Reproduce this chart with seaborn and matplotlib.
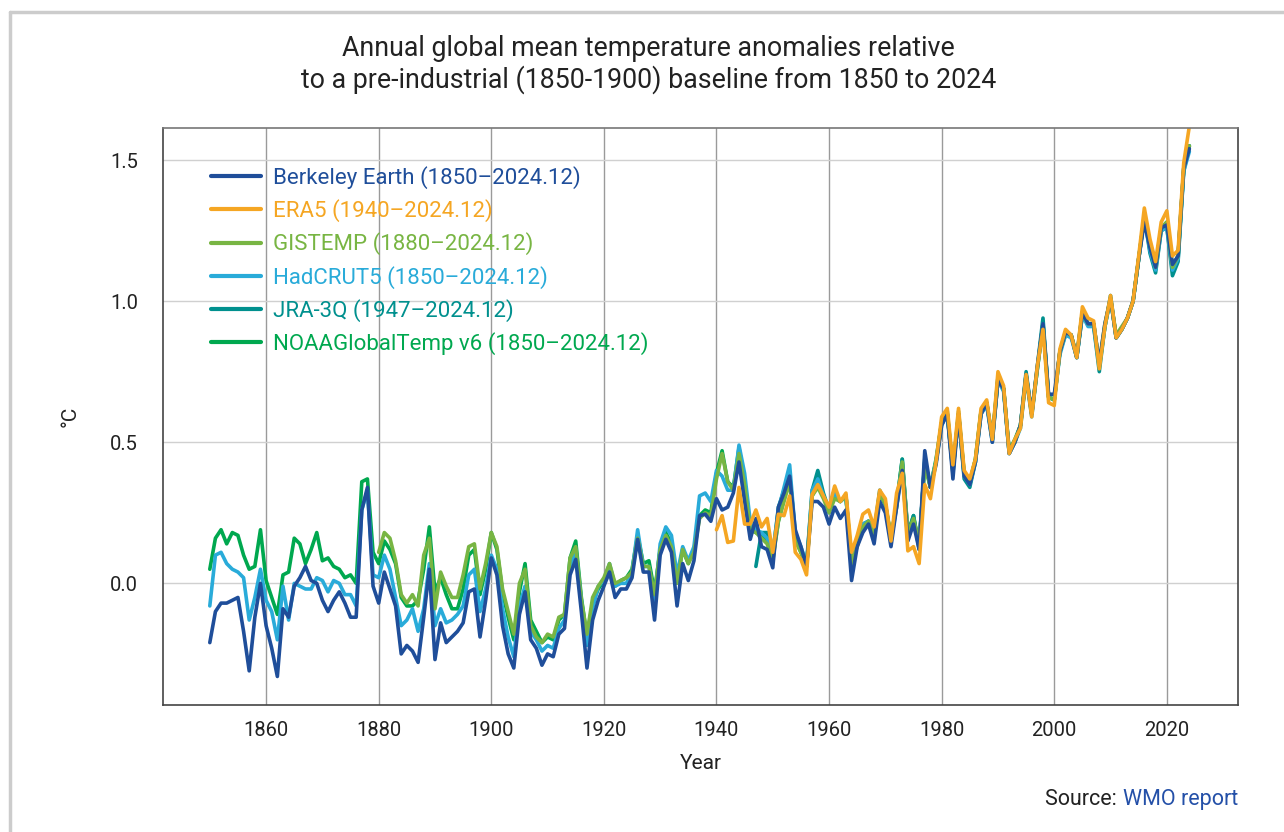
import numpy as np
import pandas as pd
import matplotlib
matplotlib.use('Agg')
import matplotlib.pyplot as plt
import seaborn as sns
from matplotlib.lines import Line2D

# ── Data: annual anomalies (°C) vs 1850-1900 ──────────────────────────
berkeley_start = 1850
berkeley = [
    -0.21, -0.10, -0.07, -0.07, -0.06, -0.05, -0.17, -0.31, -0.12, 0.00,
    -0.15, -0.23, -0.33, -0.09, -0.12, -0.01, 0.02, 0.06, 0.01, 0.00,
    -0.06, -0.10, -0.06, -0.03, -0.07, -0.12, -0.12, 0.26, 0.34, -0.01,
    -0.07, 0.04, -0.02, -0.08, -0.25, -0.22, -0.24, -0.28, -0.12, 0.05,
    -0.27, -0.14, -0.21, -0.19, -0.17, -0.14, -0.03, -0.02, -0.19, -0.06,
    0.09, 0.03, -0.15, -0.25, -0.30, -0.11, -0.03, -0.20, -0.23, -0.29,
    -0.25, -0.26, -0.18, -0.16, 0.03, 0.085, -0.10, -0.30, -0.13, -0.06,
    -0.01, 0.04, -0.05, -0.02, -0.02, 0.02, 0.156, 0.04, 0.04, -0.13,
    0.10, 0.156, 0.11, -0.08, 0.07, 0.01, 0.08, 0.24, 0.245, 0.22,
    0.30, 0.26, 0.27, 0.32, 0.43, 0.29, 0.156, 0.23, 0.13, 0.12,
    0.055, 0.27, 0.32, 0.38, 0.19, 0.13, 0.06, 0.29, 0.29, 0.27,
    0.21, 0.27, 0.23, 0.26, 0.01, 0.13, 0.18, 0.21, 0.14, 0.29,
    0.25, 0.13, 0.27, 0.40, 0.15, 0.21, 0.12, 0.47, 0.34, 0.42,
    0.56, 0.60, 0.37, 0.60, 0.38, 0.35, 0.43, 0.60, 0.64, 0.50,
    0.72, 0.69, 0.46, 0.50, 0.56, 0.74, 0.60, 0.77, 0.92, 0.67,
    0.67, 0.82, 0.89, 0.88, 0.80, 0.96, 0.92, 0.92, 0.78, 0.92,
    1.01, 0.87, 0.90, 0.94, 1.00, 1.15, 1.28, 1.19, 1.12, 1.26,
    1.27, 1.13, 1.16, 1.47, 1.54,
]

era5_start = 1940
era5 = [
    0.19, 0.24, 0.145, 0.15, 0.34, 0.21, 0.21, 0.26, 0.20, 0.23,
    0.11, 0.245, 0.24, 0.31, 0.11, 0.085, 0.03, 0.315, 0.35, 0.31,
    0.27, 0.345, 0.29, 0.32, 0.11, 0.17, 0.245, 0.26, 0.20, 0.33,
    0.30, 0.15, 0.32, 0.39, 0.115, 0.13, 0.07, 0.35, 0.30, 0.43,
    0.59, 0.62, 0.42, 0.62, 0.40, 0.37, 0.44, 0.62, 0.65, 0.51,
    0.75, 0.70, 0.46, 0.51, 0.55, 0.74, 0.59, 0.77, 0.90, 0.64,
    0.63, 0.83, 0.90, 0.88, 0.80, 0.98, 0.94, 0.93, 0.76, 0.91,
    1.02, 0.87, 0.90, 0.94, 1.00, 1.16, 1.33, 1.22, 1.14, 1.28,
    1.32, 1.16, 1.18, 1.49, 1.62,
]

gistemp_start = 1880
gistemp = [
    0.11, 0.18, 0.16, 0.08, -0.04, -0.07, -0.04, -0.08, 0.10, 0.16,
    -0.09, 0.04, -0.01, -0.05, -0.05, 0.03, 0.13, 0.14, -0.02, 0.07,
    0.18, 0.13, -0.02, -0.10, -0.18, 0.00, 0.05, -0.15, -0.19, -0.21,
    -0.18, -0.19, -0.12, -0.11, 0.09, 0.13, -0.06, -0.18, -0.05, -0.01,
    0.02, 0.07, 0.00, 0.01, 0.02, 0.04, 0.16, 0.06, 0.06, -0.04,
    0.12, 0.17, 0.13, 0.00, 0.12, 0.07, 0.11, 0.23, 0.25, 0.24,
    0.37, 0.46, 0.36, 0.33, 0.46, 0.35, 0.19, 0.18, 0.16, 0.14,
    0.08, 0.22, 0.29, 0.36, 0.15, 0.11, 0.06, 0.31, 0.34, 0.30,
    0.25, 0.30, 0.29, 0.31, 0.07, 0.13, 0.20, 0.22, 0.17, 0.31,
    0.28, 0.17, 0.27, 0.43, 0.18, 0.23, 0.14, 0.42, 0.34, 0.43,
    0.57, 0.61, 0.40, 0.61, 0.39, 0.36, 0.44, 0.61, 0.64, 0.51,
    0.73, 0.69, 0.47, 0.50, 0.56, 0.73, 0.60, 0.76, 0.91, 0.66,
    0.65, 0.82, 0.89, 0.88, 0.81, 0.96, 0.92, 0.92, 0.78, 0.92,
    1.01, 0.88, 0.91, 0.94, 1.00, 1.15, 1.30, 1.20, 1.12, 1.26,
    1.28, 1.12, 1.16, 1.47, 1.55,
]

hadcrut_start = 1850
hadcrut = [
    -0.08, 0.10, 0.11, 0.07, 0.05, 0.04, 0.02, -0.13, -0.05, 0.05,
    -0.06, -0.10, -0.20, -0.01, -0.13, 0.00, -0.01, -0.02, -0.02, 0.02,
    0.01, -0.03, 0.01, 0.00, -0.04, -0.04, -0.08, 0.26, 0.33, 0.03,
    0.02, 0.10, 0.05, -0.05, -0.15, -0.13, -0.09, -0.17, -0.09, 0.07,
    -0.15, -0.09, -0.14, -0.13, -0.11, -0.08, 0.03, 0.05, -0.10, -0.02,
    0.10, 0.05, -0.09, -0.19, -0.26, -0.08, -0.01, -0.17, -0.20, -0.24,
    -0.22, -0.23, -0.16, -0.13, 0.06, 0.12, -0.06, -0.22, -0.09, -0.01,
    0.01, 0.07, -0.01, 0.00, 0.00, 0.04, 0.19, 0.06, 0.06, -0.06,
    0.14, 0.20, 0.17, 0.03, 0.13, 0.08, 0.13, 0.31, 0.32, 0.29,
    0.40, 0.38, 0.33, 0.33, 0.49, 0.39, 0.22, 0.19, 0.18, 0.16,
    0.11, 0.26, 0.34, 0.42, 0.18, 0.13, 0.07, 0.33, 0.37, 0.31,
    0.25, 0.32, 0.29, 0.31, 0.05, 0.14, 0.21, 0.22, 0.17, 0.32,
    0.28, 0.15, 0.27, 0.42, 0.17, 0.22, 0.14, 0.43, 0.35, 0.43,
    0.56, 0.60, 0.40, 0.60, 0.38, 0.35, 0.43, 0.60, 0.63, 0.50,
    0.72, 0.68, 0.46, 0.50, 0.55, 0.73, 0.59, 0.76, 0.92, 0.66,
    0.65, 0.81, 0.88, 0.87, 0.80, 0.95, 0.91, 0.91, 0.77, 0.91,
    1.01, 0.87, 0.90, 0.94, 1.00, 1.15, 1.29, 1.18, 1.11, 1.25,
    1.26, 1.11, 1.15, 1.46, 1.53,
]

jra3q_start = 1947
jra3q = [
    0.06, 0.18, 0.18, 0.10, 0.27, 0.33, 0.39, 0.17, 0.12, 0.06,
    0.33, 0.40, 0.32, 0.26, 0.31, 0.29, 0.31, 0.07, 0.15, 0.21,
    0.22, 0.18, 0.33, 0.28, 0.16, 0.28, 0.44, 0.18, 0.24, 0.12,
    0.44, 0.34, 0.43, 0.57, 0.60, 0.39, 0.60, 0.37, 0.34, 0.43,
    0.61, 0.64, 0.51, 0.73, 0.69, 0.46, 0.50, 0.56, 0.75, 0.60,
    0.77, 0.94, 0.66, 0.65, 0.82, 0.89, 0.88, 0.80, 0.96, 0.92,
    0.91, 0.75, 0.91, 1.02, 0.87, 0.90, 0.94, 1.00, 1.15, 1.30,
    1.17, 1.10, 1.25, 1.26, 1.09, 1.14, 1.46, 1.55,
]

noaa_start = 1850
noaa = [
    0.05, 0.16, 0.19, 0.14, 0.18, 0.17, 0.10, 0.05, 0.06, 0.19,
    0.01, -0.05, -0.11, 0.03, 0.04, 0.16, 0.14, 0.07, 0.12, 0.18,
    0.08, 0.09, 0.06, 0.05, 0.02, 0.03, 0.00, 0.36, 0.37, 0.11,
    0.07, 0.15, 0.12, 0.07, -0.05, -0.08, -0.08, -0.06, 0.05, 0.20,
    -0.03, 0.02, -0.04, -0.09, -0.09, -0.02, 0.10, 0.12, -0.04, 0.05,
    0.18, 0.12, -0.03, -0.12, -0.20, -0.03, 0.07, -0.13, -0.17, -0.21,
    -0.19, -0.20, -0.13, -0.11, 0.09, 0.15, -0.05, -0.19, -0.07, -0.02,
    0.01, 0.06, -0.01, 0.01, 0.02, 0.05, 0.17, 0.07, 0.08, -0.03,
    0.12, 0.18, 0.14, 0.01, 0.12, 0.07, 0.12, 0.24, 0.26, 0.25,
    0.39, 0.47, 0.36, 0.34, 0.48, 0.36, 0.19, 0.18, 0.17, 0.15,
    0.09, 0.22, 0.30, 0.37, 0.16, 0.11, 0.06, 0.31, 0.36, 0.31,
    0.26, 0.31, 0.29, 0.31, 0.06, 0.14, 0.20, 0.22, 0.18, 0.32,
    0.28, 0.16, 0.28, 0.44, 0.17, 0.24, 0.13, 0.43, 0.34, 0.44,
    0.57, 0.60, 0.40, 0.60, 0.39, 0.36, 0.44, 0.61, 0.64, 0.51,
    0.72, 0.69, 0.47, 0.51, 0.56, 0.74, 0.60, 0.76, 0.92, 0.66,
    0.65, 0.82, 0.88, 0.88, 0.80, 0.95, 0.92, 0.92, 0.77, 0.91,
    1.01, 0.87, 0.90, 0.94, 1.00, 1.15, 1.30, 1.19, 1.12, 1.26,
    1.28, 1.12, 1.16, 1.47, 1.55,
]

labels = ['Berkeley Earth (1850–2024.12)', 'ERA5 (1940–2024.12)',
          'GISTEMP (1880–2024.12)', 'HadCRUT5 (1850–2024.12)',
          'JRA-3Q (1947–2024.12)', 'NOAAGlobalTemp v6 (1850–2024.12)']
series = [(berkeley_start, berkeley), (era5_start, era5),
          (gistemp_start, gistemp), (hadcrut_start, hadcrut),
          (jra3q_start, jra3q), (noaa_start, noaa)]
colors = ['#1f4e9a', '#f5a623', '#78b543', '#29abd9', '#00908e', '#00a84f']
zorders = [2.4, 2.5, 2.3, 2.2, 2.1, 2.0]

x_ticks = list(range(1860, 2021, 20))
y_ticks = [0.0, 0.5, 1.0, 1.5]

# ── Build long table ──────────────────────────────────────────────────
frames = []
for lab, (start, vals) in zip(labels, series):
    frames.append(pd.DataFrame({'year': np.arange(start, start + len(vals)),
                                'anomaly': vals, 'dataset': lab}))
df = pd.concat(frames, ignore_index=True)

# ── Plot ──────────────────────────────────────────────────────────────
sns.set_style('white')
plt.rcParams['font.family'] = ['Roboto', 'DejaVu Sans']

fig = plt.figure(figsize=(12.84, 8.32), dpi=100)
ax = fig.add_axes([0.127, 0.153, 0.837, 0.693])

for lab, col, z in zip(labels, colors, zorders):
    sub = df[df['dataset'] == lab]
    sns.lineplot(data=sub, x='year', y='anomaly', ax=ax, color=col,
                 linewidth=2.6, zorder=z, label=lab, legend=False)

ax.set_xlim(1841.7, 2032.6)
ax.set_ylim(-0.43, 1.613)
ax.set_xticks(x_ticks)
ax.set_yticks(y_ticks)
ax.set_yticklabels(['0.0', '0.5', '1.0', '1.5'])
ax.xaxis.grid(True, color='#9a9a9a', linewidth=1.0)
ax.yaxis.grid(True, color='#d0d0d0', linewidth=1.0)
ax.set_axisbelow(True)
ax.tick_params(axis='x', length=4, color='#9a9a9a', labelsize=14.5,
               labelcolor='#222222', pad=8)
ax.tick_params(axis='y', length=0, labelsize=14.5, labelcolor='#222222', pad=18)
for s in ax.spines.values():
    s.set_color('#444444')
    s.set_linewidth(1.2)
ax.spines['top'].set_color('#777777')

ax.set_xlabel('Year', fontsize=15, color='#222222', labelpad=10)
ax.set_ylabel('°C', fontsize=15, color='#222222', labelpad=22)

handles = [Line2D([0], [0], color=c, linewidth=3) for c in colors]
leg = ax.legend(handles, labels, loc='upper left',
                bbox_to_anchor=(0.026, 0.969), frameon=False, fontsize=16,
                handlelength=2.25, handletextpad=0.55, labelspacing=0.46)
for txt, c in zip(leg.get_texts(), colors):
    txt.set_color(c)

fig.text(0.505, 0.922, 'Annual global mean temperature anomalies relative\n'
         'to a pre-industrial (1850-1900) baseline from 1850 to 2024',
         ha='center', va='center', fontsize=19.3, color='#222222',
         linespacing=1.15)

src = fig.text(0.964, 0.039, 'WMO report', ha='right', va='center',
               fontsize=15.5, color='#2450a8')
ax.annotate('Source: ', xy=(0, 0.5), xycoords=src, ha='right', va='center',
            fontsize=15.5, color='#222222')

# card frame
fig.add_artist(Line2D([0.008, 1.0], [0.985, 0.985], color='#cccccc',
                      linewidth=2.5, transform=fig.transFigure))
fig.add_artist(Line2D([0.008, 0.008], [0.0, 0.985], color='#cccccc',
                      linewidth=2.5, transform=fig.transFigure))

fig.savefig('out.png', dpi=100)
